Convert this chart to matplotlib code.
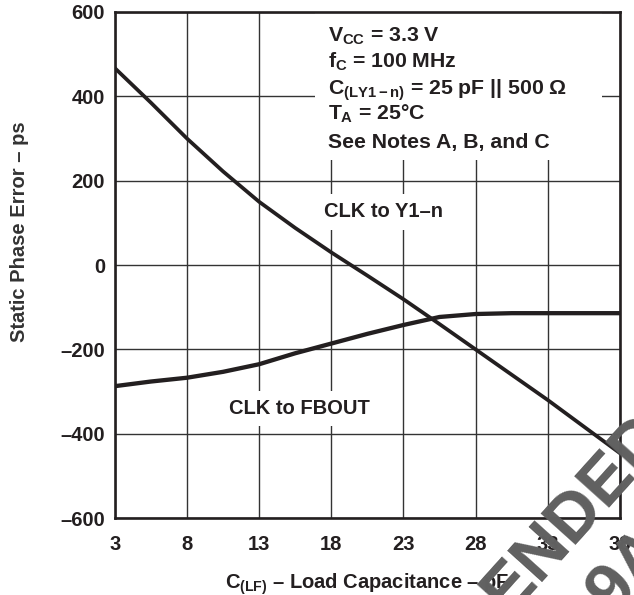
import matplotlib
matplotlib.use("Agg")
import matplotlib.pyplot as plt
from matplotlib.patches import Rectangle

plt.rcParams['font.family'] = ['Liberation Sans', 'DejaVu Sans']
plt.rcParams['font.weight'] = 'bold'
plt.rcParams['mathtext.fontset'] = 'custom'
plt.rcParams['mathtext.rm'] = 'Liberation Sans:bold'
plt.rcParams['mathtext.it'] = 'Liberation Sans:bold'
plt.rcParams['mathtext.bf'] = 'Liberation Sans:bold'

# load capacitance (pF)
cap = [3, 5.5, 8, 10.5, 13, 15.5, 18, 20.5, 23, 25.5, 28, 30.5, 33, 35.5, 38]
# static phase error (ps)
clk_y1n = [467, 385, 300, 222, 150, 88, 30, -25, -81, -140, -200, -260, -320, -383, -446]
clk_fbout = [-287, -276, -267, -253, -235, -209, -186, -163, -142, -123, -116, -114, -114, -114, -114]

xticks = [3, 8, 13, 18, 23, 28, 33, 38]
xtick_labels = ['3', '8', '13', '18', '23', '28', '33', '38']
yticks = [-600, -400, -200, 0, 200, 400, 600]
ytick_labels = ['–600', '–400', '–200', '0', '200', '400', '600']

notes = [r'$V_{CC}$ = 3.3 V',
         r'$f_{C}$ = 100 MHz',
         r'$C_{(LY1-n)}$ = 25 pF || 500 Ω',
         r'$T_{A}$ = 25°C',
         'See Notes A, B, and C']

ink = '#231f20'
fs = 14.5
fs_note = 15.3

fig = plt.figure(figsize=(6.34, 5.95), dpi=100)
ax = fig.add_axes([0.181, 0.129, 0.797, 0.851])

ax.plot(cap, clk_y1n, color=ink, lw=2.7, zorder=3)
ax.plot(cap, clk_fbout, color=ink, lw=3.1, zorder=3)

ax.set_xlim(3, 38)
ax.set_ylim(-600, 600)
ax.set_xticks(xticks)
ax.set_xticklabels(xtick_labels)
ax.set_yticks(yticks)
ax.set_yticklabels(ytick_labels)
ax.tick_params(length=0, labelsize=fs, colors=ink)
ax.tick_params(axis='x', pad=12)
ax.tick_params(axis='y', pad=7)
ax.set_axisbelow(True)
ax.grid(True, color='#333333', lw=1.0)
for s in ax.spines.values():
    s.set_linewidth(1.9)
    s.set_color(ink)

ax.set_xlabel(r'$C_{(LF)}$ – Load Capacitance – pF', fontsize=fs, fontweight='bold',
              color=ink)
ax.xaxis.set_label_coords(0.5, -0.106)
ax.set_ylabel('Static Phase Error – ps', fontsize=fs, fontweight='bold', color='#333333')
ax.yaxis.set_label_coords(-0.17, 0.565)

# white area behind the conditions block
ax.add_patch(Rectangle((0.396, 0.708), 0.568, 0.29, transform=ax.transAxes,
                       facecolor='white', edgecolor='none', zorder=1))
note_y = [0.941, 0.889, 0.836, 0.787, 0.731]
for txt, yy in zip(notes, note_y):
    ax.text(0.422, yy, txt, transform=ax.transAxes, fontsize=fs_note, color=ink,
            va='baseline', ha='left', zorder=4)

box = dict(facecolor='white', edgecolor='none', pad=6)
ax.text(0.531, 0.605, 'CLK to Y1–n', transform=ax.transAxes, fontsize=fs,
        color=ink, ha='center', va='center', bbox=box, zorder=2)
ax.text(0.366, 0.217, 'CLK to FBOUT', transform=ax.transAxes, fontsize=fs,
        color=ink, ha='center', va='center', bbox=box, zorder=2)

# watermark, mostly off the page
fig.text(0.80, -0.035, 'ENDED', fontsize=50, color='#606060', rotation=48,
         rotation_mode='anchor', ha='left', va='baseline', zorder=10)
fig.text(0.968, -0.035, '9A', fontsize=50, color='#606060', rotation=48,
         rotation_mode='anchor', ha='left', va='baseline', zorder=10)

fig.savefig('out.png', dpi=100)
